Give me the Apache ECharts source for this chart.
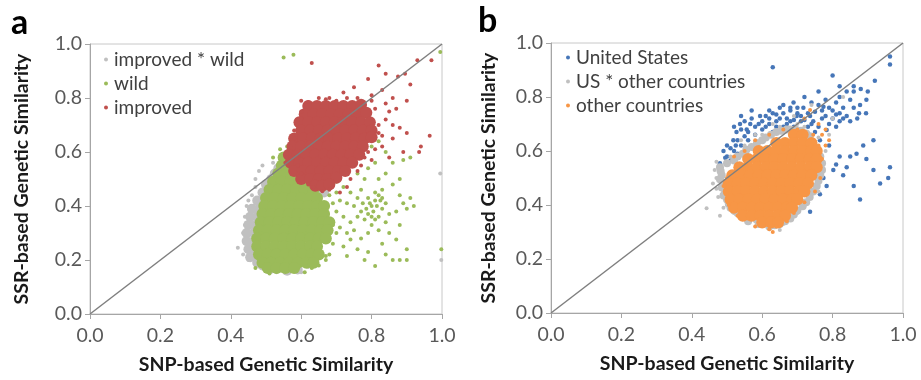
<!DOCTYPE html>
<html>
<head>
<meta charset="utf-8">
<script src="https://cdn.jsdelivr.net/npm/echarts@6/dist/echarts.min.js"></script>
<style>
html,body{margin:0;padding:0;background:#fff;}
#main{width:921px;height:380px;}
</style>
</head>
<body>
<div id="main"></div>
<script>
// tick labels (both axes, both panels)
var tickLabels = ['0.0', '0.2', '0.4', '0.6', '0.8', '1.0'];
var diagLine = [[0, 0], [1, 1]];

// ---- panel a : [SNP similarity, SSR similarity] ----
var aGrayCore = [[0.49,0.45],[0.475,0.42],[0.49,0.42],[0.46,0.39],[0.48,0.39],[0.455,0.36],[0.475,0.36],
  [0.45,0.33],[0.47,0.33],[0.445,0.30],[0.465,0.30],[0.445,0.27],[0.465,0.27],[0.45,0.24],[0.465,0.24],
  [0.455,0.21],[0.47,0.21],[0.475,0.19],[0.49,0.18],[0.51,0.165],[0.56,0.16],[0.59,0.165],
  [0.50,0.48],[0.515,0.50],[0.525,0.52],[0.535,0.54],[0.55,0.555],[0.63,0.46],[0.65,0.47],[0.665,0.45]];
var aGrayDots = [[0.42,0.245],[0.435,0.30],[0.44,0.36],[0.445,0.40],[0.47,0.47],[0.48,0.53],[0.49,0.55],
  [0.52,0.56],[0.45,0.20],[0.46,0.44],[0.995,0.52],[0.998,0.20],[0.53,0.155],[0.62,0.175],[0.66,0.50],[0.60,0.155],
  [0.435,0.22],[0.44,0.33],[0.45,0.42],[0.47,0.50]];
var aGreenCore = [[0.55,0.58],[0.57,0.58],
  [0.545,0.55],[0.57,0.55],[0.59,0.55],
  [0.535,0.52],[0.56,0.52],[0.585,0.52],[0.605,0.52],
  [0.52,0.49],[0.545,0.49],[0.57,0.49],[0.595,0.49],[0.62,0.49],
  [0.51,0.46],[0.535,0.46],[0.56,0.46],[0.585,0.46],[0.61,0.46],[0.635,0.46],
  [0.50,0.43],[0.525,0.43],[0.55,0.43],[0.575,0.43],[0.60,0.43],[0.625,0.43],[0.645,0.43],
  [0.495,0.40],[0.52,0.40],[0.545,0.40],[0.57,0.40],[0.595,0.40],[0.62,0.40],[0.645,0.40],[0.665,0.40],
  [0.49,0.37],[0.515,0.37],[0.54,0.37],[0.565,0.37],[0.59,0.37],[0.615,0.37],[0.64,0.37],[0.665,0.37],
  [0.485,0.34],[0.51,0.34],[0.535,0.34],[0.56,0.34],[0.585,0.34],[0.61,0.34],[0.635,0.34],[0.66,0.34],[0.68,0.34],
  [0.48,0.31],[0.505,0.31],[0.53,0.31],[0.555,0.31],[0.58,0.31],[0.605,0.31],[0.63,0.31],[0.655,0.31],[0.675,0.31],
  [0.475,0.28],[0.50,0.28],[0.525,0.28],[0.55,0.28],[0.575,0.28],[0.60,0.28],[0.625,0.28],[0.65,0.28],[0.67,0.28],
  [0.475,0.25],[0.50,0.25],[0.525,0.25],[0.55,0.25],[0.575,0.25],[0.60,0.25],[0.625,0.25],[0.645,0.25],
  [0.48,0.22],[0.505,0.22],[0.53,0.22],[0.555,0.22],[0.58,0.22],[0.605,0.22],[0.63,0.22],[0.65,0.22],
  [0.49,0.19],[0.515,0.19],[0.54,0.19],[0.565,0.19],[0.59,0.19],[0.615,0.19],[0.635,0.19],
  [0.505,0.17],[0.53,0.17],[0.555,0.17],[0.58,0.17]];
var aGreenDots = [[0.55,0.95],[0.578,0.96],[0.995,0.97],[0.998,0.24],[0.54,0.61],[0.56,0.62],[0.52,0.58],
  [0.58,0.60],[0.60,0.56],[0.62,0.52],[0.64,0.49],[0.66,0.47],[0.68,0.44],[0.69,0.41],[0.70,0.38],[0.69,0.33],
  [0.70,0.30],[0.69,0.26],[0.68,0.22],[0.67,0.20],[0.65,0.18],[0.63,0.17],[0.61,0.155],[0.51,0.15],[0.47,0.17],
  [0.72,0.47],[0.74,0.45],[0.73,0.41],[0.75,0.40],[0.76,0.43],[0.77,0.38],[0.78,0.35],[0.79,0.37],[0.80,0.40],
  [0.81,0.42],[0.82,0.44],[0.83,0.46],[0.80,0.33],[0.82,0.36],[0.83,0.39],[0.84,0.41],[0.82,0.31],[0.84,0.34],
  [0.85,0.37],[0.81,0.45],[0.79,0.43],[0.775,0.41],[0.76,0.36],[0.74,0.34],[0.72,0.36],[0.71,0.32],[0.73,0.30],
  [0.75,0.31],[0.77,0.28],[0.79,0.30],[0.74,0.276],[0.83,0.26],[0.87,0.276],[0.86,0.20],[0.88,0.20],[0.90,0.20],
  [0.81,0.178],[0.79,0.23],[0.73,0.215],[0.67,0.215],[0.76,0.24],[0.84,0.22],[0.87,0.38],[0.89,0.41],[0.91,0.43],
  [0.88,0.44],[0.90,0.39],[0.86,0.48],[0.88,0.50],[0.86,0.56],[0.89,0.57],[0.91,0.58],[0.84,0.52],[0.82,0.50],
  [0.78,0.50],[0.76,0.52],[0.74,0.55],[0.72,0.53],[0.70,0.49],[0.79,0.54],[0.81,0.56],[0.77,0.46],[0.85,0.30],
  [0.88,0.33],[0.92,0.40],[0.84,0.60],[0.80,0.62],[0.82,0.64],[0.70,0.45],[0.71,0.42],[0.72,0.25],[0.78,0.20],[0.90,0.24],
  [0.805,0.38],[0.815,0.40],[0.825,0.42],[0.80,0.36],[0.83,0.43],[0.785,0.39],[0.795,0.41],[0.81,0.35]];
var aRedCore = [[0.62,0.77],[0.645,0.77],[0.67,0.77],[0.695,0.77],[0.72,0.77],[0.745,0.77],[0.77,0.775],
  [0.61,0.74],[0.635,0.74],[0.66,0.74],[0.685,0.74],[0.71,0.74],[0.735,0.74],[0.76,0.74],[0.785,0.745],
  [0.595,0.71],[0.62,0.71],[0.645,0.71],[0.67,0.71],[0.695,0.71],[0.72,0.71],[0.745,0.71],[0.77,0.71],[0.795,0.71],
  [0.60,0.68],[0.625,0.68],[0.65,0.68],[0.675,0.68],[0.70,0.68],[0.725,0.68],[0.75,0.68],[0.775,0.68],[0.80,0.68],
  [0.58,0.65],[0.605,0.65],[0.63,0.65],[0.655,0.65],[0.68,0.65],[0.705,0.65],[0.73,0.65],[0.755,0.65],[0.78,0.65],[0.80,0.655],
  [0.575,0.62],[0.60,0.62],[0.625,0.62],[0.65,0.62],[0.675,0.62],[0.70,0.62],[0.725,0.62],[0.75,0.62],[0.775,0.62],
  [0.565,0.59],[0.59,0.59],[0.615,0.59],[0.64,0.59],[0.665,0.59],[0.69,0.59],[0.715,0.59],[0.74,0.59],[0.765,0.59],
  [0.57,0.56],[0.595,0.56],[0.62,0.56],[0.645,0.56],[0.67,0.56],[0.695,0.56],[0.72,0.56],[0.745,0.56],
  [0.58,0.53],[0.605,0.53],[0.63,0.53],[0.655,0.53],[0.68,0.53],[0.705,0.53],[0.725,0.53],
  [0.60,0.50],[0.625,0.50],[0.65,0.50],[0.675,0.50],[0.70,0.505],
  [0.64,0.475],[0.66,0.475],[0.68,0.48]];
var aRedDots = [[0.63,0.93],[0.82,0.92],[0.79,0.87],[0.84,0.89],[0.875,0.88],[0.895,0.89],[0.91,0.85],
  [0.93,0.94],[0.97,0.94],[0.75,0.84],[0.72,0.82],[0.65,0.80],[0.60,0.79],[0.83,0.83],[0.86,0.80],[0.90,0.79],
  [0.87,0.76],[0.84,0.72],[0.88,0.69],[0.90,0.67],[0.86,0.65],[0.89,0.60],[0.965,0.66],[0.94,0.62],[0.935,0.60],
  [0.83,0.62],[0.80,0.57],[0.85,0.58],[0.57,0.62],[0.58,0.65],[0.56,0.58],[0.60,0.52],[0.635,0.47],[0.68,0.46],
  [0.71,0.45],[0.74,0.50],[0.77,0.55],[0.79,0.60],[0.59,0.72],[0.58,0.68],[0.68,0.80],[0.70,0.79],[0.76,0.80],
  [0.80,0.79],[0.81,0.76],[0.82,0.70],[0.82,0.67],[0.78,0.58],[0.76,0.53],[0.73,0.47],[0.66,0.455],[0.62,0.48],
  [0.59,0.55],[0.555,0.56],[0.60,0.75],[0.62,0.785],[0.67,0.795],[0.73,0.80],[0.80,0.81],[0.84,0.78],[0.85,0.75],
  [0.86,0.70],[0.83,0.66],[0.81,0.61]];

// ---- panel b ----
var bBlueDots = [[0.63,0.91],[0.963,0.95],[0.963,0.92],[0.80,0.88],[0.82,0.84],[0.86,0.84],[0.88,0.83],[0.896,0.79],
  [0.878,0.77],[0.86,0.76],[0.875,0.74],[0.895,0.74],[0.76,0.82],[0.72,0.80],[0.689,0.78],[0.717,0.76],[0.736,0.73],
  [0.65,0.76],[0.62,0.75],[0.594,0.73],[0.566,0.70],[0.537,0.70],[0.556,0.68],[0.527,0.67],[0.518,0.64],[0.50,0.62],
  [0.48,0.555],[0.48,0.53],[0.68,0.75],[0.698,0.73],[0.67,0.72],[0.745,0.71],[0.774,0.764],[0.80,0.75],[0.82,0.74],
  [0.81,0.69],[0.783,0.678],[0.764,0.64],[0.79,0.62],[0.82,0.58],[0.85,0.58],[0.868,0.59],[0.887,0.62],[0.916,0.64],
  [0.896,0.57],[0.81,0.55],[0.84,0.54],[0.802,0.53],[0.83,0.51],[0.774,0.50],[0.783,0.47],[0.764,0.44],[0.878,0.42],
  [0.935,0.48],[0.958,0.50],[0.963,0.54],[0.736,0.375],[0.698,0.42],[0.69,0.44],[0.755,0.54],[0.736,0.59],[0.86,0.47],
  [0.916,0.53],[0.60,0.68],[0.62,0.70],[0.64,0.71],[0.66,0.69],[0.63,0.67],[0.65,0.72],[0.67,0.70],[0.69,0.69],
  [0.71,0.71],[0.70,0.74],[0.73,0.69],[0.75,0.67],[0.72,0.67],[0.58,0.66],[0.56,0.64],[0.54,0.62],[0.57,0.61],
  [0.77,0.72],[0.79,0.70],[0.80,0.72],[0.82,0.71],[0.84,0.73],[0.83,0.76],[0.85,0.79],[0.81,0.78],[0.78,0.79],[0.53,0.59],
  [0.61,0.69],[0.68,0.71],[0.74,0.70],[0.76,0.69],[0.59,0.70],[0.64,0.69],
  [0.66,0.74],[0.68,0.76],[0.70,0.76],[0.66,0.77],[0.69,0.715],[0.71,0.73],[0.73,0.74],[0.75,0.745],[0.77,0.75],
  [0.78,0.73],[0.72,0.715],[0.64,0.735],[0.62,0.72],[0.60,0.71],[0.58,0.69],[0.56,0.67],[0.55,0.655],[0.53,0.64],
  [0.51,0.61],[0.52,0.60],[0.50,0.58],[0.49,0.60],[0.54,0.68],[0.57,0.72],[0.61,0.73],[0.63,0.74],[0.55,0.71],
  [0.525,0.62],[0.51,0.565],[0.495,0.575],[0.74,0.78],[0.76,0.77],[0.79,0.76],[0.81,0.735],[0.83,0.72],[0.85,0.71],
  [0.87,0.72],[0.84,0.82],[0.86,0.82],[0.82,0.80],[0.90,0.82],[0.92,0.86],[0.57,0.75],[0.54,0.73],[0.52,0.69]];
var bGrayCore = [[0.48,0.54],[0.485,0.51],[0.49,0.48],[0.495,0.45],[0.50,0.42],[0.51,0.39],[0.52,0.565],[0.545,0.59],
  [0.57,0.615],[0.60,0.64],[0.625,0.66],[0.655,0.675],[0.68,0.68],[0.745,0.63],[0.765,0.58],[0.77,0.53],[0.76,0.49],
  [0.745,0.45],[0.725,0.41],[0.70,0.38],[0.68,0.35],[0.65,0.33],[0.62,0.32],[0.56,0.34],[0.53,0.37],[0.71,0.675],[0.735,0.655],
  [0.50,0.555],[0.53,0.58],[0.555,0.605],[0.585,0.63],[0.61,0.65],[0.64,0.67],[0.67,0.68],[0.695,0.68],[0.725,0.665],
  [0.755,0.61],[0.77,0.555],[0.765,0.51],[0.755,0.47],[0.735,0.43],[0.715,0.395],[0.69,0.365],[0.665,0.34],[0.635,0.325],
  [0.59,0.33],[0.545,0.355],[0.52,0.38],[0.505,0.405],[0.49,0.435],[0.485,0.465],[0.48,0.495],[0.482,0.525]];
var bGrayDots = [[0.442,0.388],[0.48,0.36],[0.65,0.307],[0.50,0.40],[0.52,0.37],[0.55,0.35],[0.58,0.34],[0.62,0.31],
  [0.66,0.33],[0.70,0.37],[0.73,0.41],[0.76,0.45],[0.77,0.55],[0.78,0.60],[0.76,0.65],[0.72,0.69],[0.65,0.69],
  [0.60,0.66],[0.55,0.62],[0.51,0.58],[0.47,0.50],[0.80,0.72],[0.83,0.80],[0.74,0.77],[0.69,0.73],[0.47,0.46],[0.79,0.66],
  [0.465,0.53],[0.47,0.56],[0.46,0.48],[0.475,0.43],[0.49,0.39],[0.54,0.64],[0.58,0.66],[0.63,0.70],[0.70,0.70]];
var bOrangeCore = [[0.69,0.66],[0.715,0.66],
  [0.64,0.63],[0.665,0.63],[0.69,0.63],[0.715,0.63],[0.74,0.63],
  [0.59,0.60],[0.615,0.60],[0.64,0.60],[0.665,0.60],[0.69,0.60],[0.715,0.60],[0.74,0.60],[0.755,0.60],
  [0.56,0.57],[0.585,0.57],[0.61,0.57],[0.635,0.57],[0.66,0.57],[0.685,0.57],[0.71,0.57],[0.735,0.57],[0.755,0.57],
  [0.535,0.54],[0.56,0.54],[0.585,0.54],[0.61,0.54],[0.635,0.54],[0.66,0.54],[0.685,0.54],[0.71,0.54],[0.735,0.54],[0.755,0.54],
  [0.515,0.51],[0.54,0.51],[0.565,0.51],[0.59,0.51],[0.615,0.51],[0.64,0.51],[0.665,0.51],[0.69,0.51],[0.715,0.51],[0.74,0.51],
  [0.505,0.48],[0.53,0.48],[0.555,0.48],[0.58,0.48],[0.605,0.48],[0.63,0.48],[0.655,0.48],[0.68,0.48],[0.705,0.48],[0.73,0.48],
  [0.505,0.45],[0.53,0.45],[0.555,0.45],[0.58,0.45],[0.605,0.45],[0.63,0.45],[0.655,0.45],[0.68,0.45],[0.705,0.45],[0.72,0.45],
  [0.51,0.42],[0.535,0.42],[0.56,0.42],[0.585,0.42],[0.61,0.42],[0.635,0.42],[0.66,0.42],[0.685,0.42],[0.70,0.42],
  [0.52,0.39],[0.545,0.39],[0.57,0.39],[0.595,0.39],[0.62,0.39],[0.645,0.39],[0.67,0.39],[0.685,0.39],
  [0.545,0.36],[0.57,0.36],[0.595,0.36],[0.62,0.36],[0.645,0.36],[0.665,0.36],
  [0.60,0.335],[0.625,0.335],[0.645,0.335]];
var bOrangeDots = [[0.58,0.32],[0.736,0.752],[0.78,0.68],[0.77,0.66],[0.76,0.70],[0.79,0.64],[0.62,0.31],[0.67,0.34],
  [0.53,0.36],[0.505,0.40],[0.49,0.47],[0.52,0.58],[0.55,0.60],[0.58,0.64],[0.62,0.66],[0.66,0.68],[0.70,0.68],
  [0.745,0.66],[0.76,0.62],[0.77,0.57],[0.765,0.50],[0.75,0.45],[0.72,0.41],[0.69,0.37],[0.64,0.32],[0.56,0.35],
  [0.50,0.50],[0.72,0.72],[0.78,0.62],[0.63,0.30]];

var FONT = 'Lato';
var colors = {gray: '#c0c0c0', green: '#9bbb59', red: '#c0504d', blue: '#4676b8', orange: '#f79646'};

function axisX(idx) {
  return {
    gridIndex: idx, type: 'value', min: 0, max: 1, interval: 0.2,
    name: 'SNP-based Genetic Similarity', nameLocation: 'middle', nameGap: 41,
    nameTextStyle: {fontFamily: FONT, fontWeight: 'bold', fontSize: 19.5, color: '#1a1a1a'},
    axisLine: {lineStyle: {color: '#a6a6a6', width: 1}},
    axisTick: {show: true, length: 5, lineStyle: {color: '#a6a6a6'}},
    splitLine: {show: false},
    axisLabel: {formatter: function (v, i) { return tickLabels[i]; }, fontFamily: FONT, fontSize: 19.5, color: '#595959', margin: 12}
  };
}
function axisY(idx, gap) {
  return {
    gridIndex: idx, type: 'value', min: 0, max: 1, interval: 0.2,
    name: 'SSR-based Genetic Similarity', nameLocation: 'middle', nameGap: gap,
    nameTextStyle: {fontFamily: FONT, fontWeight: 'bold', fontSize: 19.5, color: '#1a1a1a'},
    axisLine: {lineStyle: {color: '#a6a6a6', width: 1}},
    axisTick: {show: true, length: 5, lineStyle: {color: '#a6a6a6'}},
    splitLine: {show: false},
    axisLabel: {formatter: function (v, i) { return tickLabels[i]; }, fontFamily: FONT, fontSize: 19.5, color: '#595959', margin: 8}
  };
}
function pts(name, idx, data, color, size) {
  return {name: name, type: 'scatter', xAxisIndex: idx, yAxisIndex: idx, data: data,
    symbol: 'circle', symbolSize: size, itemStyle: {color: color, opacity: 1}, silent: true};
}
function diag(idx) {
  return {type: 'line', xAxisIndex: idx, yAxisIndex: idx, data: diagLine, symbol: 'none', silent: true, z: 5,
    lineStyle: {color: '#7f7f7f', width: 1.5}};
}
function legendAt(names, left, top) {
  return {data: names, orient: 'vertical', left: left, top: top, padding: 0, itemGap: 5,
    itemWidth: 4, itemHeight: 4, icon: 'circle', selectedMode: false,
    textStyle: {fontFamily: FONT, fontSize: 19, color: '#404040', padding: [0, 0, 0, 1]}};
}

var chart = echarts.init(document.getElementById('main'));
chart.setOption({
  animation: false,
  backgroundColor: '#fff',
  grid: [
    {left: 90, top: 44, width: 352, height: 271, show: true, borderColor: '#c8c8c8', borderWidth: 1},
    {left: 551, top: 43, width: 352, height: 270, show: true, borderColor: '#c8c8c8', borderWidth: 1}
  ],
  xAxis: [axisX(0), axisX(1)],
  yAxis: [axisY(0, 58), axisY(1, 52)],
  legend: [
    legendAt(['improved * wild', 'wild', 'improved'], 104, 50),
    legendAt(['United States', 'US * other countries', 'other countries'], 566, 48)
  ],
  graphic: [
    {type: 'text', left: 11, top: 6, style: {text: 'a', font: 'bold 34px ' + FONT, fill: '#000'}},
    {type: 'text', left: 478, top: 4, style: {text: 'b', font: 'bold 34px ' + FONT, fill: '#000'}}
  ],
  series: [
    pts('improved * wild', 0, aGrayCore, colors.gray, 10),
    pts('improved * wild', 0, aGrayDots, colors.gray, 4),
    pts('wild', 0, aGreenCore, colors.green, 12),
    pts('wild', 0, aGreenDots, colors.green, 4),
    pts('improved', 0, aRedCore, colors.red, 12),
    pts('improved', 0, aRedDots, colors.red, 4),
    diag(0),
    pts('United States', 1, bBlueDots, colors.blue, 4.5),
    pts('US * other countries', 1, bGrayCore, colors.gray, 8),
    pts('US * other countries', 1, bGrayDots, colors.gray, 4),
    pts('other countries', 1, bOrangeCore, colors.orange, 12),
    pts('other countries', 1, bOrangeDots, colors.orange, 4),
    diag(1)
  ]
});
</script>
</body>
</html>
